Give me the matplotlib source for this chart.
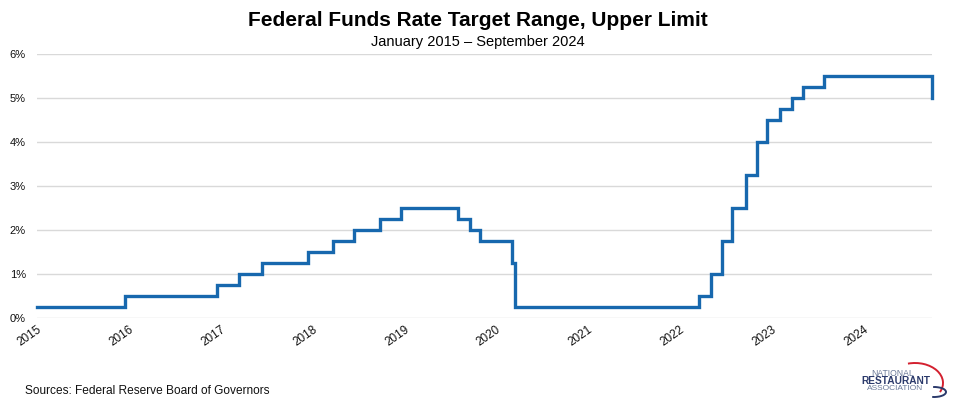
import matplotlib
matplotlib.use("Agg")
import matplotlib.pyplot as plt
from matplotlib.patches import Arc
import datetime as dt

# Data: date of change and new upper limit (%)
change_dates = ["2015-01-01", "2015-12-17", "2016-12-15", "2017-03-16", "2017-06-15",
                "2017-12-14", "2018-03-22", "2018-06-14", "2018-09-27", "2018-12-20",
                "2019-08-01", "2019-09-19", "2019-10-31", "2020-03-04", "2020-03-16",
                "2022-03-17", "2022-05-05", "2022-06-16", "2022-07-28", "2022-09-22",
                "2022-11-03", "2022-12-15", "2023-02-02", "2023-03-23", "2023-05-04",
                "2023-07-27", "2024-09-30"]
upper_limit = [0.25, 0.50, 0.75, 1.00, 1.25,
               1.50, 1.75, 2.00, 2.25, 2.50,
               2.25, 2.00, 1.75, 1.25, 0.25,
               0.50, 1.00, 1.75, 2.50, 3.25,
               4.00, 4.50, 4.75, 5.00, 5.25,
               5.50, 5.00]
year_ticks = [2015, 2016, 2017, 2018, 2019, 2020, 2021, 2022, 2023, 2024]
y_ticks = [0, 1, 2, 3, 4, 5, 6]

plt.rcParams['font.family'] = ['Liberation Sans', 'DejaVu Sans']

dates = [dt.datetime.strptime(d, "%Y-%m-%d") for d in change_dates]

fig = plt.figure(figsize=(9.56, 4.07), dpi=100)
ax = fig.add_axes([37/956, 1-318/407, (932-37)/956, (318-54)/407])

ax.step(dates, upper_limit, where='post', color='#1768AE', linewidth=2.4,
        solid_joinstyle='miter', clip_on=False)

ax.set_ylim(0, 6)
ax.set_xlim(dates[0], dates[-1])
ax.set_yticks(y_ticks)
ax.set_yticklabels([f"{v}%" for v in y_ticks])
ax.set_xticks([dt.datetime(y, 1, 1) for y in year_ticks])
ax.set_xticklabels([str(y) for y in year_ticks], rotation=35, ha='right', rotation_mode='anchor')
ax.tick_params(axis='both', length=0, labelsize=8.5, colors='#111111')
ax.tick_params(axis='y', pad=8, labelsize=8)
ax.tick_params(axis='x', pad=4)
ax.grid(axis='y', color='#D9D9D9', linewidth=1.0)
ax.set_axisbelow(True)
for s in ax.spines.values():
    s.set_visible(False)

fig.text(0.5, 1-21/407, "Federal Funds Rate Target Range, Upper Limit", ha='center', va='center',
         fontsize=15, fontweight='bold', color='#000000')
fig.text(0.5, 1-42/407, "January 2015 \u2013 September 2024", ha='center', va='center',
         fontsize=10.5, color='#000000')
fig.text(25/956, 1-391/407, "Sources: Federal Reserve Board of Governors", ha='left', va='center',
         fontsize=8.6, color='#111111')

# Logo
fig.text(893/956, 1-373/407, "NATIONAL", ha='center', va='center', fontsize=6.2, color='#6B7A99')
fig.text(896/956, 1-381/407, "RESTAURANT", ha='center', va='center', fontsize=7.3, fontweight='bold', color='#2B3A6B')
fig.text(895/956, 1-389/407, "ASSOCIATION", ha='center', va='center', fontsize=6.0, color='#6B7A99')
lax = fig.add_axes([860/956, 1-400/407, 90/956, 40/407])
lax.set_xlim(0, 90); lax.set_ylim(40, 0); lax.axis('off')
lax.add_patch(Arc((55, 23), 56, 40, theta1=250, theta2=20, color='#D3202F', linewidth=1.4))
lax.add_patch(Arc((74, 32), 24, 10, theta1=260, theta2=110, color='#2B3A6B', linewidth=1.4))

fig.savefig("out.png", dpi=100)
